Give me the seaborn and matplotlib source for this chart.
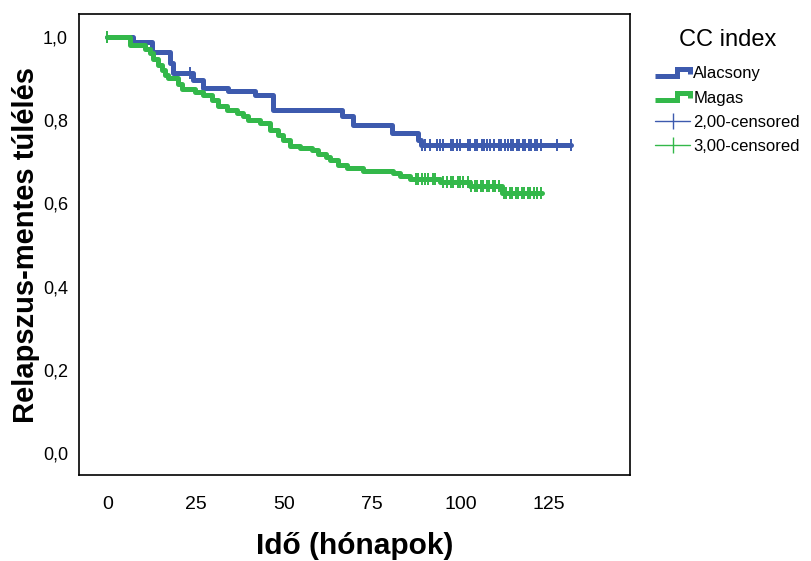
import numpy as np
import pandas as pd
import matplotlib
matplotlib.use("Agg")
import matplotlib.pyplot as plt
import seaborn as sns
from matplotlib.lines import Line2D
from matplotlib.legend_handler import HandlerBase

# Kaplan-Meier lépcsők (idő, túlélés az esemény után), leolvasva
alacsony_t = [7.4, 12.7, 17.8, 18.7, 24.4, 27.2, 34.3, 41.9, 47.0, 66.6, 69.7, 80.7, 88.1, 88.7]
alacsony_s = [0.988, 0.964, 0.938, 0.913, 0.897, 0.877, 0.870, 0.861, 0.825, 0.810, 0.788, 0.769, 0.752, 0.740]
alacsony_vege = 131.2
alacsony_cens = [0, 23.5, 89.2, 90.1, 91.5, 93.5, 94.3, 95.2, 97.2, 98.0, 98.9, 100.0, 102.0, 102.8,
                 104.0, 104.8, 106.0, 106.8, 107.6, 108.5, 109.6, 110.8, 111.6, 112.7, 113.6, 114.2,
                 115.0, 115.9, 116.7, 117.6, 118.4, 119.3, 120.1, 121.0, 121.8, 122.7, 127.2, 131.2]

magas_t = [6.5, 10.8, 12.2, 13.0, 14.4, 15.6, 16.4, 17.3, 20.1, 21.2, 24.9, 27.2, 29.7, 31.4, 34.0,
           36.8, 38.5, 39.9, 43.3, 46.2, 48.4, 49.9, 51.8, 54.7, 58.1, 59.8, 61.8, 63.2, 65.2, 68.0,
           72.5, 81.0, 83.0, 85.8, 94.3, 102.8, 111.9]
magas_s = [0.981, 0.971, 0.962, 0.947, 0.933, 0.921, 0.909, 0.901, 0.887, 0.875, 0.868, 0.861, 0.849,
           0.834, 0.825, 0.817, 0.810, 0.800, 0.793, 0.776, 0.764, 0.752, 0.738, 0.733, 0.728, 0.719,
           0.712, 0.704, 0.692, 0.685, 0.678, 0.673, 0.666, 0.659, 0.651, 0.642, 0.625]
magas_vege = 123.0
magas_cens = [0, 87.3, 88.1, 89.2, 90.1, 90.9, 92.1, 92.9, 95.2, 96.3, 97.2, 98.0, 99.2, 100.0, 100.8,
              102.0, 103.1, 104.0, 104.8, 105.7, 106.5, 107.4, 108.2, 109.1, 109.9, 110.8, 112.2,
              113.0, 113.9, 114.7, 115.6, 116.4, 117.3, 118.1, 119.0, 119.8, 120.7, 121.8, 122.7]

csoportok = ["Alacsony", "Magas"]
szinek = {"Alacsony": "#3d5aae", "Magas": "#33b84a"}
x_ticks = [0, 25, 50, 75, 100, 125]
y_ticks = [0.0, 0.2, 0.4, 0.6, 0.8, 1.0]


def lepcso(t, s, vege):
    tt = [0] + list(t) + [vege]
    ss = [1.0] + list(s) + [s[-1]]
    return tt, ss


def ertek(t, s, ido):
    idx = np.searchsorted(t, ido, side="right")
    return np.r_[1.0, s][idx]


rows = []
cens_rows = []
for nev, t, s, vege, cens in [("Alacsony", alacsony_t, alacsony_s, alacsony_vege, alacsony_cens),
                              ("Magas", magas_t, magas_s, magas_vege, magas_cens)]:
    tt, ss = lepcso(t, s, vege)
    rows += [{"ido": a, "surv": b, "csoport": nev} for a, b in zip(tt, ss)]
    cy = ertek(np.array(t), np.array(s), np.array(cens))
    cens_rows += [{"ido": a, "surv": b, "csoport": nev} for a, b in zip(cens, cy)]

df = pd.DataFrame(rows)
df_cens = pd.DataFrame(cens_rows)

sns.set_style("white")
plt.rcParams["font.family"] = ["Liberation Sans", "DejaVu Sans"]
plt.rcParams["text.color"] = "black"
plt.rcParams["axes.labelcolor"] = "black"
plt.rcParams["xtick.color"] = "black"
plt.rcParams["ytick.color"] = "black"

fig = plt.figure(figsize=(8.11, 5.61), dpi=100)
ax = fig.add_axes([0.0974, 0.1533, 0.6794, 0.8217])

sns.lineplot(data=df, x="ido", y="surv", hue="csoport", palette=szinek, estimator=None,
             sort=False, drawstyle="steps-post", linewidth=3.6, legend=False, ax=ax)
sns.scatterplot(data=df_cens, x="ido", y="surv", hue="csoport", palette=szinek, marker="|",
                s=70, linewidth=1.4, legend=False, ax=ax, zorder=3)

ax.set_xlim(-8, 148)
ax.set_ylim(-0.053, 1.055)
ax.set_xticks(x_ticks)
ax.set_yticks(y_ticks)
ax.set_yticklabels([f"{v:.1f}".replace(".", ",") for v in y_ticks])
ax.tick_params(axis="x", direction="out", length=8, width=1.2, labelsize=14, pad=7)
ax.tick_params(axis="y", direction="out", length=6, width=1.2, labelsize=13, pad=2)
for sp in ax.spines.values():
    sp.set_visible(True)
    sp.set_color("black")
    sp.set_linewidth(1.2)

ax.set_xlabel("Idő (hónapok)", fontsize=21.5, fontweight="bold", labelpad=14)
ax.set_ylabel("Relapszus-mentes túlélés", fontsize=21, fontweight="bold", labelpad=2)


class StepHandler(HandlerBase):
    def create_artists(self, legend, orig_handle, xdescent, ydescent, width, height, fontsize, trans):
        xs = np.array([0, 0.62, 0.62, 1.0, 1.0]) * width - xdescent
        ys = np.array([0.2, 0.2, 0.8, 0.8, 0.4]) * height - ydescent
        ln = Line2D(xs, ys, color=orig_handle.get_color(), lw=orig_handle.get_linewidth(),
                    solid_joinstyle="miter", solid_capstyle="butt")
        ln.set_transform(trans)
        return [ln]


h_al = Line2D([0], [0], color=szinek["Alacsony"], lw=3.6)
h_ma = Line2D([0], [0], color=szinek["Magas"], lw=3.6)
h_c2 = Line2D([0], [0], color=szinek["Alacsony"], lw=1, marker="|", markersize=12, markeredgewidth=1)
h_c3 = Line2D([0], [0], color=szinek["Magas"], lw=1, marker="|", markersize=12, markeredgewidth=1)

leg = fig.legend([h_al, h_ma, h_c2, h_c3], ["Alacsony", "Magas", "2,00-censored", "3,00-censored"],
                 title="CC index", loc="upper left", bbox_to_anchor=(655 / 811, 1 - 29 / 561),
                 frameon=False, fontsize=12, title_fontsize=17, handlelength=2.1, handletextpad=0.2,
                 labelspacing=0.55, borderpad=0, borderaxespad=0,
                 handler_map={h_al: StepHandler(), h_ma: StepHandler()})
# kicsit nagyobb hely a cím alatt
leg._legend_box.sep = 0.55 * 12 + 4.5

fig.savefig("out.png", dpi=100)
